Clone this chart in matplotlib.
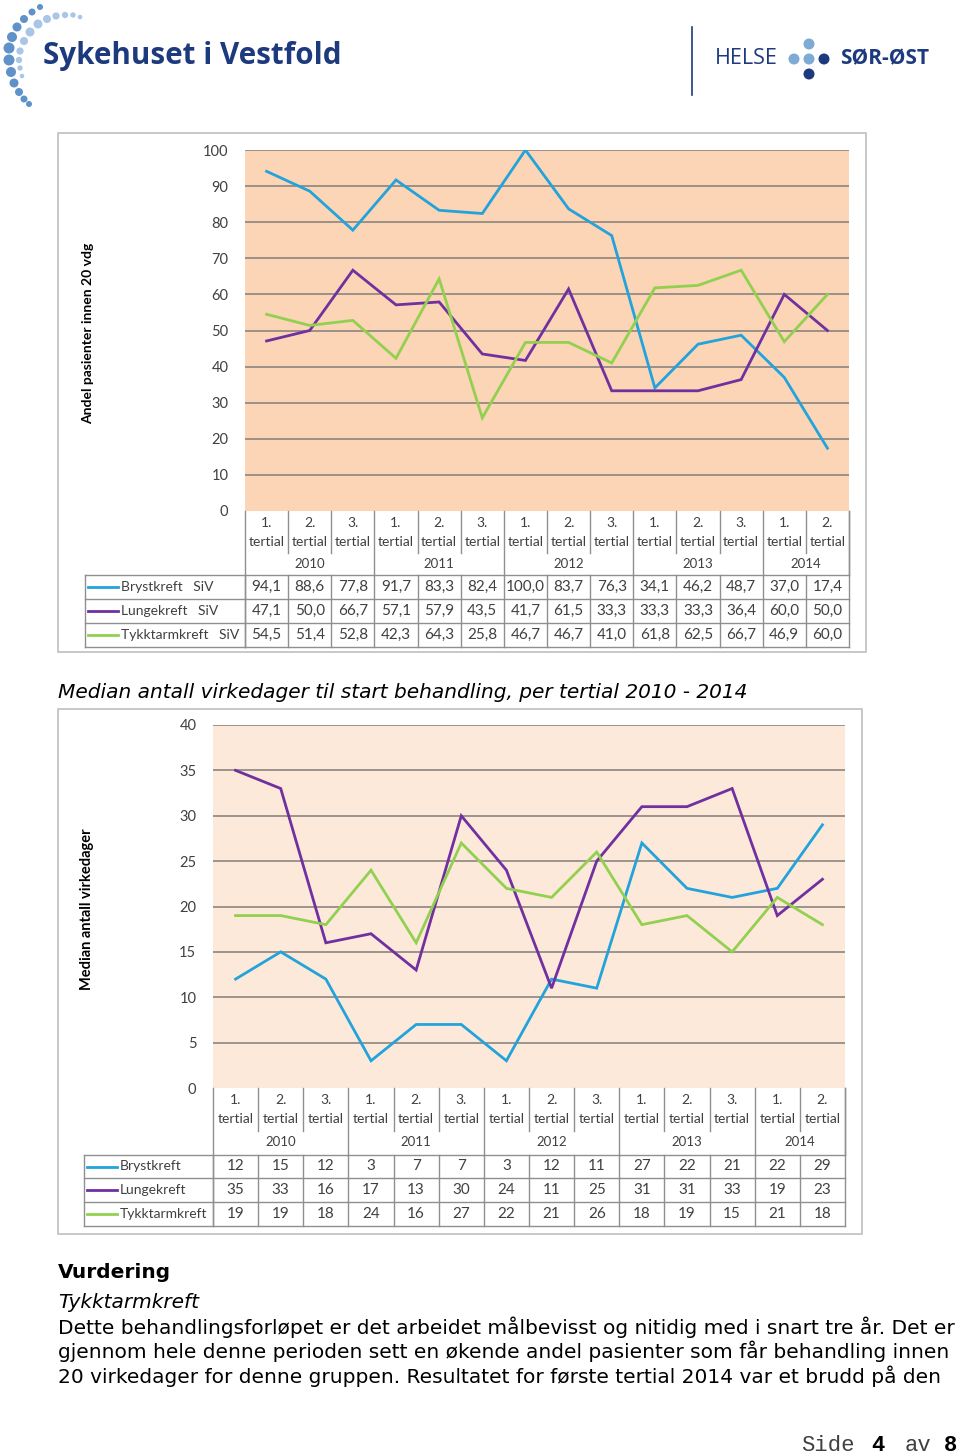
import numpy as np
import matplotlib.pyplot as plt
from matplotlib.patches import Rectangle, Circle

# Data: tertial results 2010 - 2014
tertial_no = ['1.', '2.', '3.', '1.', '2.', '3.', '1.', '2.', '3.', '1.', '2.', '3.', '1.', '2.']
years = ['2010', '2011', '2012', '2013', '2014']
year_size = [3, 3, 3, 3, 2]
series_names = ['Brystkreft', 'Lungekreft', 'Tykktarmkreft']

# Andel pasienter innen 20 vdg (%)
andel_bryst = [94.1, 88.6, 77.8, 91.7, 83.3, 82.4, 100.0, 83.7, 76.3, 34.1, 46.2, 48.7, 37.0, 17.4]
andel_lunge = [47.1, 50.0, 66.7, 57.1, 57.9, 43.5, 41.7, 61.5, 33.3, 33.3, 33.3, 36.4, 60.0, 50.0]
andel_tykk = [54.5, 51.4, 52.8, 42.3, 64.3, 25.8, 46.7, 46.7, 41.0, 61.8, 62.5, 66.7, 46.9, 60.0]

# Median antall virkedager
median_bryst = [12, 15, 12, 3, 7, 7, 3, 12, 11, 27, 22, 21, 22, 29]
median_lunge = [35, 33, 16, 17, 13, 30, 24, 11, 25, 31, 31, 33, 19, 23]
median_tykk = [19, 19, 18, 24, 16, 27, 22, 21, 26, 18, 19, 15, 21, 18]

colors = ['#22A3DC', '#7030A0', '#92D050']
W, H = 960, 1455
FONT = 'Lato'
GRID = '#8C8580'
EDGE = '#8F8F8F'

fig = plt.figure(figsize=(W / 100, H / 100), dpi=100)
page = fig.add_axes([0, 0, 1, 1])
page.set_xlim(0, W)
page.set_ylim(H, 0)
page.axis('off')


def px_axes(x0, y0, x1, y1):
    return fig.add_axes([x0 / W, 1 - y1 / H, (x1 - x0) / W, (y1 - y0) / H])


def draw_chart(box, plot, label_left, hdr, rows, ymax, ystep, bg, ylabel, ylab_x,
               ylab_size, values, fmt, suffix):
    n = len(tertial_no)
    x = np.arange(n)
    page.add_patch(Rectangle((box[0], box[1]), box[2] - box[0], box[3] - box[1],
                             facecolor='white', edgecolor='#BFBFBF', lw=1.2, zorder=0))

    ax = px_axes(*plot)
    ax.set_zorder(2)
    ax.set_facecolor(bg)
    ax.set_xlim(-0.5, n - 0.5)
    ax.set_ylim(0, ymax)
    ticks = np.arange(0, ymax + 1, ystep)
    ax.set_yticks(ticks)
    ax.set_yticklabels([str(t) for t in ticks], fontsize=10.5, family=FONT, color='#404040')
    ax.tick_params(axis='y', length=0, pad=12)
    ax.set_xticks([])
    for s in ax.spines.values():
        s.set_visible(False)
    for t in ticks[1:]:
        ax.axhline(t, color=GRID, lw=1.2, zorder=1)
    for vals, c in zip(values, colors):
        ax.plot(x, vals, color=c, lw=2.0, zorder=3, solid_joinstyle='miter')

    page.text(ylab_x, (plot[1] + plot[3]) / 2 + 3, ylabel, rotation=90, ha='center',
              va='center', fontsize=ylab_size, fontweight='bold', family=FONT, color='black')

    # table under the plot, x in column units
    colw = (plot[2] - plot[0]) / n
    lw = (plot[0] - label_left) / colw
    tb = rows[-1]
    tab = px_axes(label_left, plot[3], plot[2], tb)
    tab.set_zorder(2)
    tab.set_xlim(-0.5 - lw, n - 0.5)
    tab.set_ylim(tb, plot[3])
    tab.axis('off')
    top, y_no, y_ter, div, y_year, hbot = hdr
    kw = dict(color=EDGE, lw=1.0, clip_on=False)
    tab.plot([-0.5, -0.5], [top, tb], **kw)
    tab.plot([n - 0.5, n - 0.5], [top, tb], **kw)
    edge = -0.5
    for yr, sz in zip(years, year_size):
        for j in range(1, sz):
            tab.plot([edge + j, edge + j], [top, div], **kw)
        tab.text(edge + sz / 2, y_year, yr, ha='center', va='center', fontsize=9.5,
                 family=FONT, color='#404040')
        edge += sz
        tab.plot([edge, edge], [top, hbot], **kw)
    for i in range(n):
        tab.text(i, y_no, tertial_no[i], ha='center', va='center', fontsize=10,
                 family=FONT, color='#404040')
        tab.text(i, y_ter, 'tertial', ha='center', va='center', fontsize=10,
                 family=FONT, color='#404040')
        tab.plot([i - 0.5, i - 0.5], [hbot, tb], **kw)
    tab.plot([-0.5 - lw, -0.5 - lw], [hbot, tb], **kw)
    for yy in rows:
        tab.plot([-0.5 - lw, n - 0.5], [yy, yy], **kw)
    for r, (name, vals, c) in enumerate(zip(series_names, values, colors)):
        yc = (rows[r] + rows[r + 1]) / 2
        x0 = -0.5 - lw
        tab.plot([x0 + 3 / colw, x0 + 33 / colw], [yc, yc], color=c, lw=2.0, clip_on=False)
        tab.text(x0 + 36 / colw, yc, name + suffix, ha='left', va='center', fontsize=10,
                 family=FONT, color='#404040')
        for i, v in enumerate(vals):
            tab.text(i, yc, fmt(v), ha='center', va='center', fontsize=11,
                     family=FONT, color='#404040')


draw_chart(box=(58, 133, 866, 652), plot=(245, 150, 849, 511), label_left=85,
           hdr=(511, 523, 542, 553, 564, 575), rows=[575, 599, 623, 647],
           ymax=100, ystep=10, bg='#FBD5B5', ylabel='Andel pasienter innen 20 vdg',
           ylab_x=88, ylab_size=10, values=[andel_bryst, andel_lunge, andel_tykk],
           fmt=lambda v: f'{v:.1f}'.replace('.', ','), suffix='   SiV')

page.text(58, 692, 'Median antall virkedager til start behandling, per tertial 2010 - 2014',
          ha='left', va='center', fontsize=14.5, style='italic', family='DejaVu Sans')

draw_chart(box=(58, 709, 862, 1234), plot=(213, 725, 845, 1088), label_left=84,
           hdr=(1088, 1100, 1119, 1131, 1142, 1155), rows=[1155, 1178, 1202, 1226],
           ymax=40, ystep=5, bg='#FDE9D9', ylabel='Median antall virkedager',
           ylab_x=87, ylab_size=10.5, values=[median_bryst, median_lunge, median_tykk],
           fmt=lambda v: f'{v}', suffix='')

# Text below
page.text(58, 1272, 'Vurdering', ha='left', va='center', fontsize=14.5, fontweight='bold',
          family='DejaVu Sans')
page.text(58, 1302, 'Tykktarmkreft', ha='left', va='center', fontsize=14.5, style='italic',
          family='DejaVu Sans')
body = ['Dette behandlingsforløpet er det arbeidet målbevisst og nitidig med i snart tre år. Det er',
        'gjennom hele denne perioden sett en økende andel pasienter som får behandling innen',
        '20 virkedager for denne gruppen. Resultatet for første tertial 2014 var et brudd på den']
for k, line in enumerate(body):
    page.text(58, 1327 + k * 24.5, line, ha='left', va='center', fontsize=14.5,
              family='DejaVu Sans')

for txt, cx, bold in [('Side', 828, False), ('4', 878, True), ('av', 918, False), ('8', 951, True)]:
    page.text(cx, 1451, txt, ha='center', va='baseline', fontsize=16,
              family='Liberation Mono', fontweight='bold' if bold else 'normal',
              color='black' if bold else '#404040')

# Logos
navy = '#1E3A7E'
outer = [(40, 7, 3), (32, 12, 3.5), (24, 19, 4), (17, 27, 4.5), (12, 37, 5), (9, 48, 5.5),
         (9, 60, 5.5), (11, 72, 5), (14, 83, 4.5), (19, 92, 4), (24, 99, 3.5), (29, 104, 3)]
inner = [(80, 17, 2.5), (73, 15, 3), (65, 15, 3.5), (56, 16, 4), (47, 19, 4.5), (38, 24, 5),
         (30, 32, 5), (24, 41, 4.5), (20, 51, 4), (19, 60, 3.5), (20, 68, 3), (22, 76, 2.5)]
for cx, cy, r in outer:
    page.add_patch(Circle((cx, cy), r, color='#5F92C8', lw=0))
for cx, cy, r in inner:
    page.add_patch(Circle((cx, cy), r * 0.9, color='#A9C6E6', lw=0))
page.text(43, 56, 'Sykehuset i Vestfold', ha='left', va='center', fontsize=21.3,
          fontweight='bold', family='Open Sans', color=navy)
page.plot([692, 692], [27, 95], color=navy, lw=1.2)
page.text(715, 59, 'HELSE', ha='left', va='center', fontsize=15.5, family='Open Sans', color=navy)
for cx, cy, c in [(794, 59, '#7EAAD6'), (809, 59, '#7EAAD6'), (809, 44, '#7EAAD6'),
                  (824, 59, navy), (809, 74, navy)]:
    page.add_patch(Circle((cx, cy), 5.5, color=c, lw=0))
page.text(840, 59, 'SØR-ØST', ha='left', va='center', fontsize=15, fontweight='bold',
          family='Open Sans', color=navy)

fig.savefig('out.png', dpi=100)
